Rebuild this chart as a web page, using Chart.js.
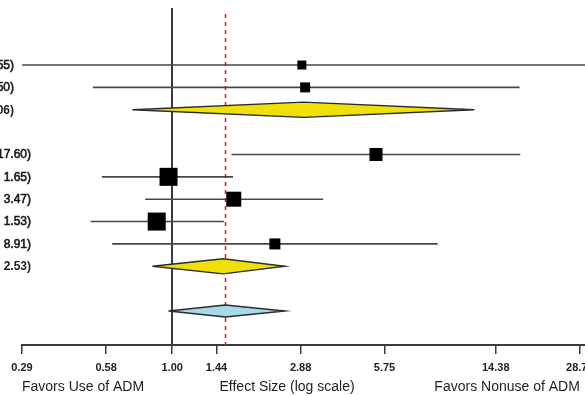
<!DOCTYPE html>
<html>
<head>
<meta charset="utf-8">
<script src="https://cdn.jsdelivr.net/npm/chart.js@4"></script>
<style>
  html, body { margin: 0; padding: 0; background: #ffffff; }
  #wrap { width: 585px; height: 396px; }
</style>
</head>
<body>
<div id="wrap"><canvas id="c" width="585" height="396"></canvas></div>
<script>
// ---- data (log-scale effect sizes) ----
const rowIndex   = [0, 1, 2, 4, 5, 6, 7, 8, 9, 11];
const rowKind    = ['study', 'study', 'summary', 'study', 'study', 'study', 'study', 'study', 'summary', 'overall'];
const rowSection = [1, 1, 1, 2, 2, 2, 2, 2, 2, 3];
const estimates  = [2.91, 2.99, 2.95, 5.36, 0.97, 1.66, 0.88, 2.33, 1.52, 1.55];
const lowerCI    = [0.21, 0.52, 0.72, 1.63, 0.56, 0.80, 0.51, 0.61, 0.85, 0.97];
const upperCI    = [40.55, 17.50, 12.06, 17.60, 1.65, 3.47, 1.53, 8.91, 2.53, 2.53];
const weights    = [6.0, 7.4, null, 12.6, 24.1, 16.7, 24.1, 9.0, null, null];
const ciLabels   = ['2.91 (0.21, 40.55)', '2.99 (0.52, 17.50)', '2.95 (0.72, 12.06)',
                    '5.36 (1.63, 17.60)', '0.97 (0.56, 1.65)', '1.66 (0.80, 3.47)',
                    '0.88 (0.51, 1.53)', '2.33 (0.61, 8.91)', '1.52 (0.85, 2.53)', ''];
const tickValues = [0.29, 0.58, 1.00, 1.44, 2.88, 5.75, 14.38, 28.75];
const nullEffect = 1.00;
const pooledEffect = 1.55;
const axisTitleLeft = 'Favors Use of ADM';
const axisTitleCenter = 'Effect Size (log scale)';
const axisTitleRight = 'Favors Nonuse of ADM';

// ---- styling ----
const FONT = "'Liberation Sans', Arial, Helvetica, sans-serif";
const diamondHalf = { summary: 0.34, overall: 0.27 };
const diamondFill = { summary: 'rgb(240,224,10)', overall: 'rgb(168,216,236)' };

const datasets = [];
// confidence interval lines
rowIndex.forEach((r, i) => {
  if (rowKind[i] !== 'study') return;
  datasets.push({
    data: [{ x: lowerCI[i], y: r }, { x: upperCI[i], y: r }],
    showLine: true, borderColor: '#4a4646', borderWidth: 1.6,
    pointRadius: 0, fill: false, order: 3
  });
});
// study squares (area proportional to weight)
const sq = [], sqR = [];
rowIndex.forEach((r, i) => {
  if (rowKind[i] !== 'study') return;
  sq.push({ x: estimates[i], y: r });
  const side = 3.67 * Math.sqrt(weights[i]);
  sqR.push(side / (2 * Math.SQRT1_2));
});
datasets.push({
  data: sq, pointStyle: 'rect', pointRadius: sqR, pointHoverRadius: sqR,
  backgroundColor: '#000', borderColor: '#000', borderWidth: 0, showLine: false, order: 1
});
// summary diamonds
rowIndex.forEach((r, i) => {
  const k = rowKind[i];
  if (k === 'study') return;
  const h = diamondHalf[k];
  datasets.push({
    data: [
      { x: lowerCI[i], y: r }, { x: estimates[i], y: r - h },
      { x: upperCI[i], y: r }, { x: estimates[i], y: r + h },
      { x: lowerCI[i], y: r }
    ],
    showLine: true, fill: 'shape', backgroundColor: diamondFill[k],
    borderColor: '#2a2a2a', borderWidth: 1.4, pointRadius: 0, tension: 0, order: 2
  });
});

const refLines = {
  id: 'refLines',
  beforeDatasetsDraw(chart) {
    const { ctx, chartArea: a, scales: { x } } = chart;
    ctx.save();
    const x1 = Math.round(x.getPixelForValue(nullEffect));
    ctx.strokeStyle = '#3c3a3a';
    ctx.lineWidth = 2;
    ctx.beginPath(); ctx.moveTo(x1, a.top); ctx.lineTo(x1, a.bottom); ctx.stroke();
    const x2 = Math.round(x.getPixelForValue(pooledEffect)) + 0.5;
    ctx.strokeStyle = '#ee2222';
    ctx.lineWidth = 1.6;
    ctx.setLineDash([4, 4]);
    ctx.beginPath(); ctx.moveTo(x2, a.top + 6); ctx.lineTo(x2, a.bottom); ctx.stroke();
    ctx.restore();
  }
};

const textLayer = {
  id: 'textLayer',
  afterDraw(chart) {
    const { ctx, chartArea: a, scales: { x, y } } = chart;
    ctx.save();
    ctx.fillStyle = '#1a1a1a';
    ctx.strokeStyle = '#1a1a1a';
    ctx.textBaseline = 'middle';
    ctx.textAlign = 'right';
    rowIndex.forEach((r, i) => {
      if (!ciLabels[i]) return;
      const bold = rowKind[i] !== 'study';
      ctx.font = (bold ? 'bold ' : '') + '12px ' + FONT;
      const xe = rowSection[i] === 1 ? a.left - 8 : a.left + 9;
      const yy = y.getPixelForValue(r) + 0.5;
      ctx.fillText(ciLabels[i], xe, yy);
      if (!bold) { ctx.lineWidth = 0.6; ctx.strokeText(ciLabels[i], xe, yy); }
    });
    ctx.font = '14px ' + FONT;
    ctx.fillStyle = '#1e1e1e';
    const ty = a.bottom + 42;
    ctx.textAlign = 'left';
    ctx.fillText(axisTitleLeft, a.left, ty);
    ctx.fillText(axisTitleCenter, x.getPixelForValue(1.44) + 3, ty);
    ctx.textAlign = 'right';
    ctx.fillText(axisTitleRight, x.getPixelForValue(28.75), ty);
    ctx.restore();
  }
};

new Chart(document.getElementById('c'), {
  type: 'scatter',
  data: { datasets },
  options: {
    responsive: false,
    animation: false,
    events: [],
    layout: { autoPadding: false, padding: { left: 22, top: 8, right: 0, bottom: 0 } },
    plugins: { legend: { display: false }, tooltip: { enabled: false } },
    scales: {
      x: {
        type: 'logarithmic',
        min: 0.29,
        max: 30,
        afterBuildTicks(scale) { scale.ticks = tickValues.map(v => ({ value: v })); },
        afterFit(scale) {
          scale.height = 51; scale.paddingLeft = 0; scale.paddingRight = 0;
          scale.getPadding = () => ({ left: 0, top: 0, right: 0, bottom: 0 });
        },
        ticks: {
          autoSkip: false, maxRotation: 0, padding: 7,
          color: '#222', font: { family: FONT, size: 11, weight: 'bold' },
          callback: (v) => Number(v).toFixed(2)
        },
        grid: { display: true, drawOnChartArea: false, drawTicks: true, tickLength: 9, color: '#3c3a3a', lineWidth: 1.5 },
        border: { display: true, color: '#3c3a3a', width: 2 }
      },
      y: {
        type: 'linear', reverse: true, min: -2.55, max: 12.52, display: false
      }
    }
  },
  plugins: [refLines, textLayer]
});
</script>
</body>
</html>
